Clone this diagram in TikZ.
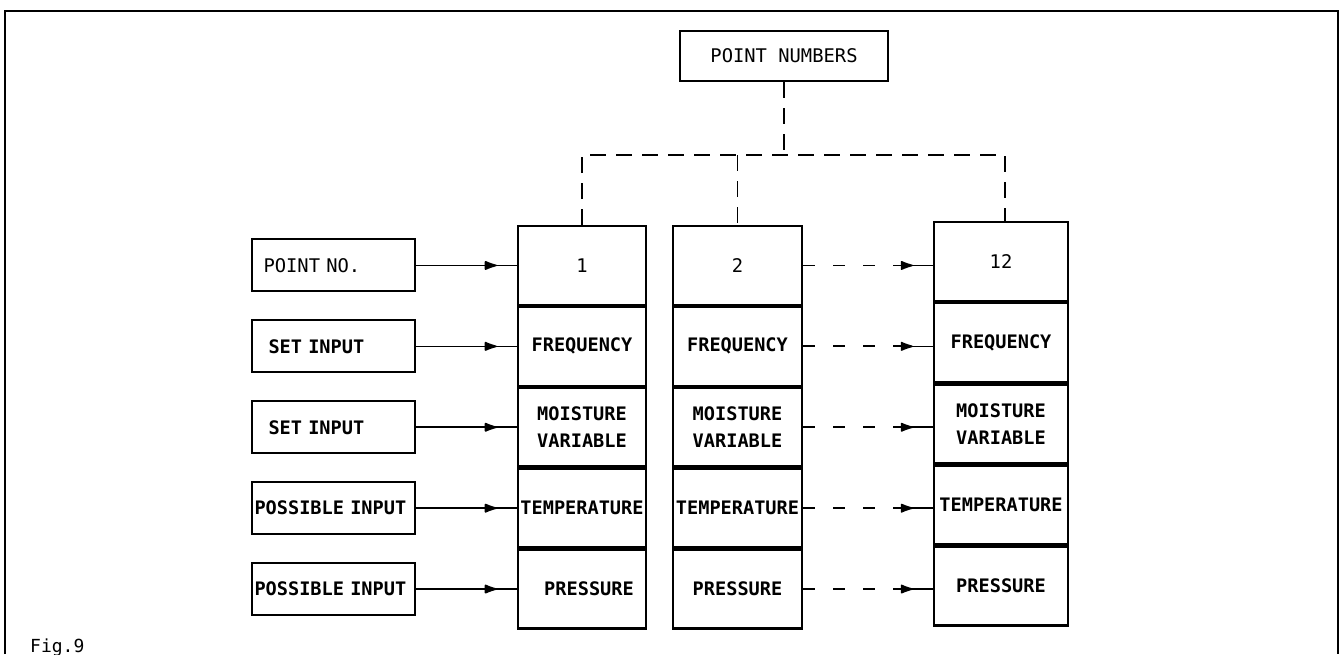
\documentclass[tikz,border=0pt]{standalone}
\usepackage{fontspec}
\newfontfamily\plotter{DejaVu Sans Mono}
\usetikzlibrary{arrows.meta,decorations.markings,calc}
\newcommand{\boldtxt}{\fontsize{18.6}{27}\selectfont\plotter\bfseries}
\newcommand{\lighttxt}{\fontsize{18.8}{27}\selectfont\plotter\mdseries}
\begin{document}
\begin{tikzpicture}[x=1pt,y=-1pt,
  frame/.style={line width=2.4pt},
  cell/.style={draw, line width=2.3pt, minimum height=78.6pt, anchor=north, inner sep=0pt, font=\boldtxt, align=center},
  lbox/.style={draw, line width=2pt, minimum height=52pt, minimum width=163pt, inner ysep=0pt, align=left, font=\boldtxt},
  pnbox/.style={draw, line width=2pt, minimum height=50pt, minimum width=208pt, inner sep=0pt, font=\lighttxt},
  conn/.style={line width=1.6pt, postaction={decorate}, decoration={markings, mark=at position -20pt with {\arrow{Latex[length=15pt,width=10pt,round]}}}},
  dline/.style={line width=1.8pt, dash pattern=on 12pt off 18pt},
  tipline/.style={line width=1.6pt, postaction={decorate}, decoration={markings, mark=at position -20pt with {\arrow{Latex[length=15pt,width=10pt,round]}}}},
  dtree/.style={line width=1.9pt, dash pattern=on 16pt off 10pt}]
\useasboundingbox (0,0) rectangle (1340,654);
\fill[white] (0,0) rectangle (1340,654);
% outer frame (open at the bottom)
\draw[frame] (5,654) -- (5,11) -- (1338,11) -- (1338,654);

% top box
\node[pnbox] (pn) at (784,56) {POINT NUMBERS};

% column 1
\node[cell, minimum width=128pt] (a1) at (582,225) {\lighttxt 1};
\node[cell, minimum width=128pt] (a2) at (a1.south) {FREQUENCY};
\node[cell, minimum width=128pt] (a3) at (a2.south) {MOISTURE\\VARIABLE};
\node[cell, minimum width=128pt] (a4) at (a3.south) {TEMPERATURE};
\node[cell, minimum width=128pt] (a5) at (a4.south) {\hspace*{14pt}PRESSURE};
% column 2
\node[cell, minimum width=129pt] (b1) at (737.5,225) {\lighttxt 2};
\node[cell, minimum width=129pt] (b2) at (b1.south) {FREQUENCY};
\node[cell, minimum width=129pt] (b3) at (b2.south) {MOISTURE\\VARIABLE};
\node[cell, minimum width=129pt] (b4) at (b3.south) {TEMPERATURE};
\node[cell, minimum width=129pt] (b5) at (b4.south) {PRESSURE};
% column 12
\node[cell, minimum width=134pt, minimum height=78.8pt] (c1) at (1001,221) {\lighttxt 12};
\node[cell, minimum width=134pt, minimum height=78.8pt] (c2) at (c1.south) {FREQUENCY};
\node[cell, minimum width=134pt, minimum height=78.8pt] (c3) at (c2.south) {MOISTURE\\VARIABLE};
\node[cell, minimum width=134pt, minimum height=78.8pt] (c4) at (c3.south) {TEMPERATURE};
\node[cell, minimum width=134pt, minimum height=78.8pt] (c5) at (c4.south) {PRESSURE};

% left input boxes
\coordinate (lx) at (333,0);
\node[lbox, inner xsep=12pt, text width=139pt, font=\lighttxt] (p1) at (lx |- a1) {POINT NO.};
\node[lbox, inner xsep=17pt, text width=129pt] (p2) at (lx |- a2) {SET INPUT};
\node[lbox, inner xsep=17pt, text width=129pt] (p3) at (lx |- a3) {SET INPUT};
\node[lbox, inner xsep=3pt, text width=157pt] (p4) at (lx |- a4) {POSSIBLE INPUT};
\node[lbox, inner xsep=3pt, text width=157pt] (p5) at (lx |- a5) {POSSIBLE INPUT};

% solid input arrows
\foreach \i in {1,...,5} {
  \draw[conn] (p\i.east) -- (p\i.east -| a\i.west);
}

% dashed arrows from column 2 to column 12
\foreach \i in {1,...,5} {
  \coordinate (e\i) at (b\i.east -| c\i.west);
  \draw[dline] (b\i.east) -- ($(e\i)+(-24,0)$);
  \draw[tipline] ($(e\i)+(-36,0)$) -- (e\i);
}

% dashed distribution tree
\coordinate (j) at (784,155);
\draw[dtree] (pn.south) -- (j);
\draw[dtree] (a1.north) -- (a1.north |- j) -- ($(c1.north |- j)+(4,0)$) -- ($(c1.north)+(4,0)$);
\draw[dtree] (b1.north |- j) -- (b1.north);

% caption
\node[anchor=base west, inner sep=0pt, font={\fontsize{18}{20}\selectfont\plotter}] (fig) at (30,652) {Fig.9};
\end{tikzpicture}
\end{document}
